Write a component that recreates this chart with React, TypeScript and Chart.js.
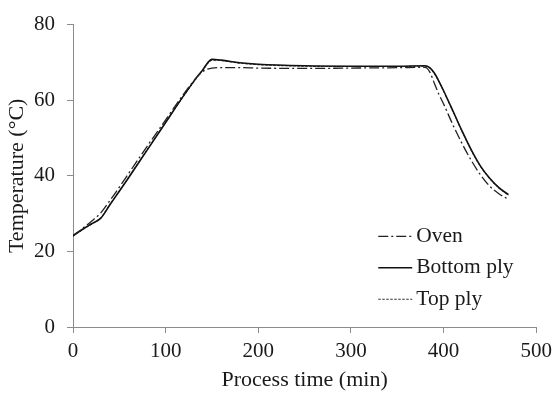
import React, { useEffect, useRef } from "react";
import { Chart, registerables } from "chart.js";

Chart.register(...registerables);

const times = [0, 10, 20, 30, 40, 50, 60, 80, 100, 120, 135, 140, 145, 150, 160, 180, 200, 250, 300, 350, 380, 385, 390, 395, 400, 410, 420, 430, 440, 450, 460, 470];

const ovenTemps = [24, 26, 28, 30.2, 33.5, 37, 40.6, 47.8, 54.8, 61.8, 66.5, 67.6, 68.2, 68.5, 68.6, 68.6, 68.5, 68.4, 68.5, 68.6, 68.7, 67.5, 64.5, 61.5, 59, 53.5, 48.5, 44, 40.2, 37.2, 35.2, 33.8];

const bottomPlyTemps = [24.2, 25.8, 27.3, 28.8, 32.4, 35.9, 39.5, 46.8, 54.1, 61.4, 66.5, 68, 69.8, 70.8, 70.6, 69.9, 69.5, 69.1, 69, 69, 69.1, 68.6, 67.2, 65, 62.5, 57.2, 51.8, 46.8, 42.5, 39.3, 36.8, 35];

const topPlyTemps = [24.1, 25.7, 27.2, 28.9, 32.5, 36, 39.6, 46.9, 54.2, 61.3, 66.4, 67.9, 69.6, 70.6, 70.5, 69.8, 69.4, 69, 68.9, 68.9, 69, 68.5, 67.1, 64.9, 62.4, 57.1, 51.7, 46.7, 42.4, 39.2, 36.7, 34.9];

const seriesLabels = ["Oven", "Bottom ply", "Top ply"];
const xTicks = [0, 100, 200, 300, 400, 500];
const yTicks = [0, 20, 40, 60, 80];

const FONT = "'Liberation Serif', 'Times New Roman', serif";
const TEXT = "#1a1a1a";
const AXIS = "#8c8c8c";

const legendPlugin = {
  id: "insideLegend",
  afterDraw(chart: any) {
    const ctx = chart.ctx;
    const { right, bottom } = chart.chartArea;
    ctx.save();
    chart.data.datasets.forEach((ds: any, i: number) => {
      const y = bottom - 90.7 + i * 31.5;
      ctx.beginPath();
      ctx.setLineDash(ds.borderDash || []);
      ctx.lineWidth = ds.borderWidth;
      ctx.strokeStyle = ds.borderColor;
      ctx.moveTo(right - 158, y);
      ctx.lineTo(right - 124, y);
      ctx.stroke();
      ctx.setLineDash([]);
      ctx.fillStyle = TEXT;
      ctx.font = `21.5px ${FONT}`;
      ctx.textBaseline = "middle";
      ctx.textAlign = "left";
      ctx.fillText(ds.label, right - 120, y);
    });
    ctx.restore();
  },
};

export default function App() {
  const ref = useRef<HTMLCanvasElement>(null);

  useEffect(() => {
    if (!ref.current) return;
    const mk = (vals: number[]) => times.map((t, i) => ({ x: t, y: vals[i] }));
    const chart = new Chart(ref.current, {
      type: "line",
      data: {
        datasets: [
          {
            label: seriesLabels[0],
            data: mk(ovenTemps),
            borderColor: "#222",
            borderWidth: 1.3,
            borderDash: [10, 3, 2, 3],
            pointRadius: 0,
            cubicInterpolationMode: "monotone",
          },
          {
            label: seriesLabels[1],
            data: mk(bottomPlyTemps),
            borderColor: "#111",
            borderWidth: 1.6,
            pointRadius: 0,
            cubicInterpolationMode: "monotone",
          },
          {
            label: seriesLabels[2],
            data: mk(topPlyTemps),
            borderColor: "#333",
            borderWidth: 1.1,
            borderDash: [2.5, 1.5],
            pointRadius: 0,
            cubicInterpolationMode: "monotone",
          },
        ],
      },
      options: {
        animation: false,
        responsive: false,
        layout: { padding: { top: 18, right: 18, left: 0, bottom: 0 } },
        plugins: { legend: { display: false }, tooltip: { enabled: false } },
        scales: {
          x: {
            type: "linear",
            min: 0,
            max: 500,
            afterFit: (s: any) => { s.height = 68; },
            afterBuildTicks: (s: any) => { s.ticks = xTicks.map((v) => ({ value: v })); },
            ticks: { color: TEXT, font: { family: FONT, size: 21 }, padding: 6, maxRotation: 0 },
            grid: { drawOnChartArea: false, drawTicks: true, tickLength: 6, color: AXIS },
            border: { color: AXIS, width: 1 },
            title: { display: true, text: "Process time (min)", color: TEXT, font: { family: FONT, size: 22 }, padding: { top: 0, bottom: 2 } },
          },
          y: {
            type: "linear",
            min: 0,
            max: 80,
            afterFit: (s: any) => { s.width = 73; },
            afterBuildTicks: (s: any) => { s.ticks = yTicks.map((v) => ({ value: v })); },
            ticks: { color: TEXT, font: { family: FONT, size: 21 }, padding: 12 },
            grid: { drawOnChartArea: false, drawTicks: true, tickLength: 6, color: AXIS },
            border: { color: AXIS, width: 1 },
            title: { display: true, text: "Temperature (°C)", color: TEXT, font: { family: FONT, size: 22 }, padding: { top: 4, bottom: 0 } },
          },
        },
      },
      plugins: [legendPlugin],
    });
    return () => chart.destroy();
  }, []);

  return (
    <div style={{ position: "absolute", left: 0, top: 0, width: 558, height: 395, background: "#fff" }}>
      <canvas ref={ref} width={558} height={395} style={{ display: "block" }} />
    </div>
  );
}
